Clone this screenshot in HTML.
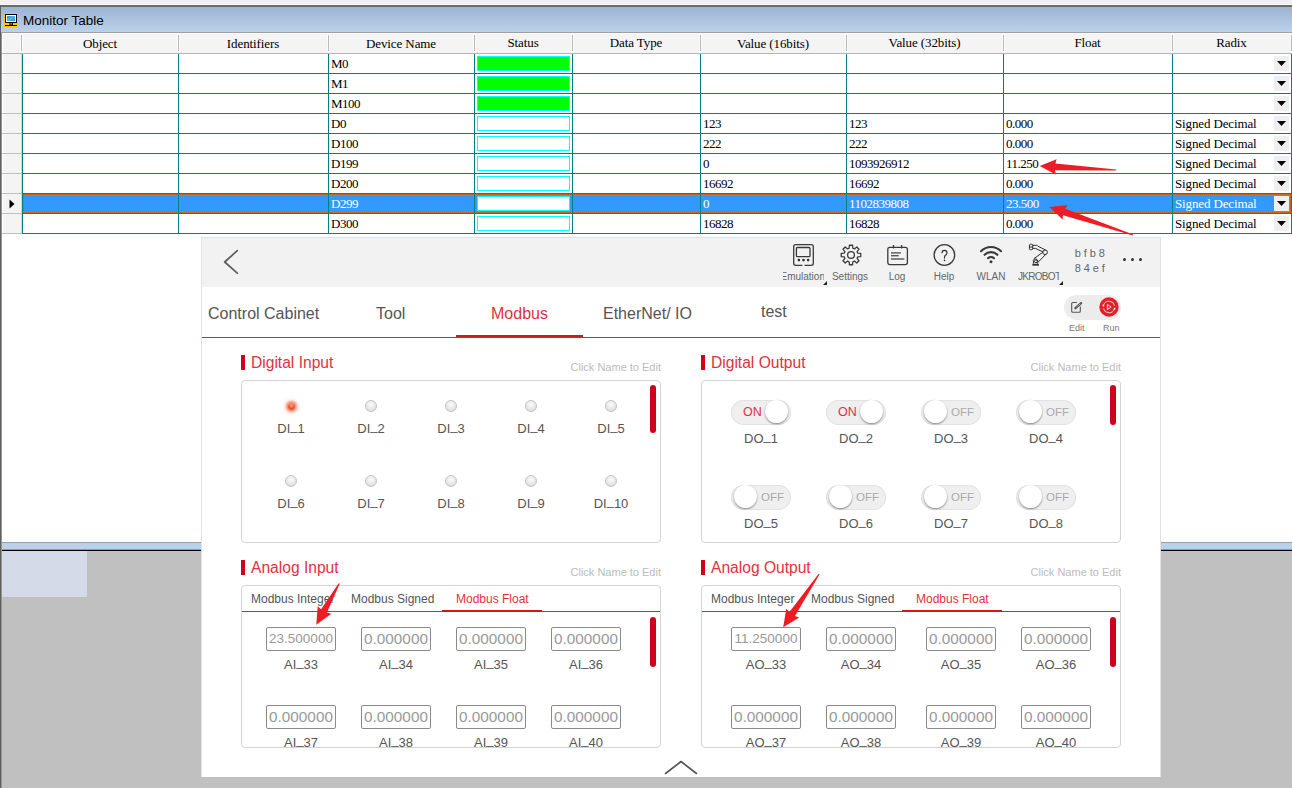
<!DOCTYPE html>
<html><head><meta charset="utf-8"><title>Monitor Table</title>
<style>
*{box-sizing:border-box;margin:0;padding:0}
html,body{width:1292px;height:788px;overflow:hidden}
body{position:relative;background:#f0f0f0;font-family:"Liberation Sans",sans-serif}
.ab{position:absolute}
.sf{font-family:"Liberation Serif",serif;font-size:13px;color:#000;white-space:pre;line-height:16px}
.hd{position:absolute;top:33.5px;height:20px;letter-spacing:-0.1px;font-family:"Liberation Serif",serif;font-size:13px;line-height:20px;text-align:center;color:#000;white-space:pre}
.ss{font-family:"Liberation Sans",sans-serif;white-space:pre}
</style></head><body>

<div class="ab" style="left:0;top:4px;width:1292px;height:1px;background:#f8f8f8"></div>
<div class="ab" style="left:0;top:5px;width:1292px;height:2px;background:#6b6b6b"></div>
<div class="ab" style="left:1px;top:7px;width:1291px;height:25px;background:linear-gradient(#9bb4d2,#bad2eb)"></div>
<div class="ab" style="left:1px;top:32px;width:1291px;height:1px;background:#a0a0a0"></div>
<svg class="ab" style="left:4px;top:13px" width="14" height="14" viewBox="0 0 14 14">
<defs><linearGradient id="scr" x1="0" y1="0" x2="1" y2="1"><stop offset="0" stop-color="#2b8ed0"/><stop offset="0.5" stop-color="#58b4e4"/><stop offset="1" stop-color="#2c8ccc"/></linearGradient></defs>
<rect x="0" y="0" width="14" height="14" fill="#ffc800"/>
<rect x="1" y="1" width="12" height="9" fill="#000"/>
<rect x="2" y="2" width="10" height="7" fill="#fff"/>
<rect x="3" y="3" width="8" height="5" fill="url(#scr)"/>
<rect x="5.5" y="10" width="3.5" height="2" fill="#000"/>
<rect x="6.3" y="10" width="1.9" height="1.6" fill="#808080"/>
<rect x="1" y="12" width="12" height="1" fill="#000"/>
</svg>
<div class="ab ss" style="left:23px;top:12px;font-size:13.5px;line-height:18px;color:#000">Monitor Table</div>
<div class="ab" style="left:1px;top:33px;width:1291px;height:509px;background:#fff"></div>
<div class="ab" style="left:1px;top:33px;width:1291px;height:20px;background:#f4f4f4"></div>
<div class="ab" style="left:2px;top:33px;width:1px;height:20px;background:#fff"></div>
<div class="ab" style="left:1px;top:33px;width:1291px;height:1px;background:#fafafa"></div>
<div class="ab" style="left:1px;top:53px;width:1291px;height:1px;background:#b4b4b4"></div>
<div class="ab" style="left:20px;top:33px;width:3px;height:20px;background:#fbfbfb"></div>
<div class="ab" style="left:21px;top:35px;width:1px;height:16px;background:#b9b9b9"></div>
<div class="ab" style="left:177px;top:33px;width:3px;height:20px;background:#fbfbfb"></div>
<div class="ab" style="left:178px;top:35px;width:1px;height:16px;background:#b9b9b9"></div>
<div class="ab" style="left:327px;top:33px;width:3px;height:20px;background:#fbfbfb"></div>
<div class="ab" style="left:328px;top:35px;width:1px;height:16px;background:#b9b9b9"></div>
<div class="ab" style="left:473px;top:33px;width:3px;height:20px;background:#fbfbfb"></div>
<div class="ab" style="left:474px;top:35px;width:1px;height:16px;background:#b9b9b9"></div>
<div class="ab" style="left:571px;top:33px;width:3px;height:20px;background:#fbfbfb"></div>
<div class="ab" style="left:572px;top:35px;width:1px;height:16px;background:#b9b9b9"></div>
<div class="ab" style="left:699px;top:33px;width:3px;height:20px;background:#fbfbfb"></div>
<div class="ab" style="left:700px;top:35px;width:1px;height:16px;background:#b9b9b9"></div>
<div class="ab" style="left:845px;top:33px;width:3px;height:20px;background:#fbfbfb"></div>
<div class="ab" style="left:846px;top:35px;width:1px;height:16px;background:#b9b9b9"></div>
<div class="ab" style="left:1002px;top:33px;width:3px;height:20px;background:#fbfbfb"></div>
<div class="ab" style="left:1003px;top:35px;width:1px;height:16px;background:#b9b9b9"></div>
<div class="ab" style="left:1171px;top:33px;width:3px;height:20px;background:#fbfbfb"></div>
<div class="ab" style="left:1172px;top:35px;width:1px;height:16px;background:#b9b9b9"></div>
<div class="ab" style="left:1290px;top:33px;width:3px;height:20px;background:#fbfbfb"></div>
<div class="ab" style="left:1291px;top:35px;width:1px;height:16px;background:#b9b9b9"></div>
<div class="hd" style="left:22px;width:156px;margin-top:0px">Object</div>
<div class="hd" style="left:178px;width:150px;margin-top:0px">Identifiers</div>
<div class="hd" style="left:328px;width:146px;margin-top:0px">Device Name</div>
<div class="hd" style="left:474px;width:98px;margin-top:-1px">Status</div>
<div class="hd" style="left:572px;width:128px;margin-top:-1px">Data Type</div>
<div class="hd" style="left:700px;width:146px;margin-top:0px">Value (16bits)</div>
<div class="hd" style="left:846px;width:157px;margin-top:-1px">Value (32bits)</div>
<div class="hd" style="left:1003px;width:169px;margin-top:-1px">Float</div>
<div class="hd" style="left:1172px;width:119px;margin-top:-1px">Radix</div>
<div class="ab" style="left:1px;top:54px;width:21px;height:19px;background:#f4f4f4"></div>
<div class="ab" style="left:2px;top:54px;width:1px;height:19px;background:#fff"></div>
<div class="ab" style="left:1px;top:73px;width:21px;height:1px;background:#c0c0c0"></div>
<div class="ab" style="left:21px;top:54px;width:1px;height:19px;background:#d6d6d6"></div>
<div class="ab sf" style="left:331px;top:55.6px;color:#000;letter-spacing:-0.5px">M0</div>
<div class="ab" style="left:477px;top:56px;width:93px;height:15px;border:1px solid #00ffff;background:#00ff00"></div>
<div class="ab" style="left:1274px;top:56px;width:15px;height:15px;background:#efefef"></div>
<svg class="ab" style="left:1277px;top:61px" width="9" height="5" viewBox="0 0 9 5"><path d="M0 0H9L4.5 5Z" fill="#000"/></svg>
<div class="ab" style="left:1px;top:74px;width:21px;height:19px;background:#f4f4f4"></div>
<div class="ab" style="left:2px;top:74px;width:1px;height:19px;background:#fff"></div>
<div class="ab" style="left:1px;top:93px;width:21px;height:1px;background:#c0c0c0"></div>
<div class="ab" style="left:21px;top:74px;width:1px;height:19px;background:#d6d6d6"></div>
<div class="ab sf" style="left:331px;top:75.6px;color:#000;letter-spacing:-0.5px">M1</div>
<div class="ab" style="left:477px;top:76px;width:93px;height:15px;border:1px solid #00ffff;background:#00ff00"></div>
<div class="ab" style="left:1274px;top:76px;width:15px;height:15px;background:#efefef"></div>
<svg class="ab" style="left:1277px;top:81px" width="9" height="5" viewBox="0 0 9 5"><path d="M0 0H9L4.5 5Z" fill="#000"/></svg>
<div class="ab" style="left:1px;top:94px;width:21px;height:19px;background:#f4f4f4"></div>
<div class="ab" style="left:2px;top:94px;width:1px;height:19px;background:#fff"></div>
<div class="ab" style="left:1px;top:113px;width:21px;height:1px;background:#c0c0c0"></div>
<div class="ab" style="left:21px;top:94px;width:1px;height:19px;background:#d6d6d6"></div>
<div class="ab sf" style="left:331px;top:95.6px;color:#000;letter-spacing:-0.5px">M100</div>
<div class="ab" style="left:477px;top:96px;width:93px;height:15px;border:1px solid #00ffff;background:#00ff00"></div>
<div class="ab" style="left:1274px;top:96px;width:15px;height:15px;background:#efefef"></div>
<svg class="ab" style="left:1277px;top:101px" width="9" height="5" viewBox="0 0 9 5"><path d="M0 0H9L4.5 5Z" fill="#000"/></svg>
<div class="ab" style="left:1px;top:114px;width:21px;height:19px;background:#f4f4f4"></div>
<div class="ab" style="left:2px;top:114px;width:1px;height:19px;background:#fff"></div>
<div class="ab" style="left:1px;top:133px;width:21px;height:1px;background:#c0c0c0"></div>
<div class="ab" style="left:21px;top:114px;width:1px;height:19px;background:#d6d6d6"></div>
<div class="ab sf" style="left:331px;top:115.6px;color:#000;letter-spacing:-0.5px">D0</div>
<div class="ab" style="left:477px;top:116px;width:93px;height:15px;border:1px solid #00ffff;background:#fff"></div>
<div class="ab sf" style="left:703px;top:115.6px;color:#000;letter-spacing:-0.5px">123</div>
<div class="ab sf" style="left:849px;top:115.6px;color:#000;letter-spacing:-0.5px">123</div>
<div class="ab sf" style="left:1006px;top:115.6px;color:#000;letter-spacing:-0.5px">0.000</div>
<div class="ab sf" style="left:1175px;top:115.6px;color:#000;letter-spacing:-0.13px">Signed Decimal</div>
<div class="ab" style="left:1274px;top:116px;width:15px;height:15px;background:#efefef"></div>
<svg class="ab" style="left:1277px;top:121px" width="9" height="5" viewBox="0 0 9 5"><path d="M0 0H9L4.5 5Z" fill="#000"/></svg>
<div class="ab" style="left:1px;top:134px;width:21px;height:19px;background:#f4f4f4"></div>
<div class="ab" style="left:2px;top:134px;width:1px;height:19px;background:#fff"></div>
<div class="ab" style="left:1px;top:153px;width:21px;height:1px;background:#c0c0c0"></div>
<div class="ab" style="left:21px;top:134px;width:1px;height:19px;background:#d6d6d6"></div>
<div class="ab sf" style="left:331px;top:135.6px;color:#000;letter-spacing:-0.5px">D100</div>
<div class="ab" style="left:477px;top:136px;width:93px;height:15px;border:1px solid #00ffff;background:#fff"></div>
<div class="ab sf" style="left:703px;top:135.6px;color:#000;letter-spacing:-0.5px">222</div>
<div class="ab sf" style="left:849px;top:135.6px;color:#000;letter-spacing:-0.5px">222</div>
<div class="ab sf" style="left:1006px;top:135.6px;color:#000;letter-spacing:-0.5px">0.000</div>
<div class="ab sf" style="left:1175px;top:135.6px;color:#000;letter-spacing:-0.13px">Signed Decimal</div>
<div class="ab" style="left:1274px;top:136px;width:15px;height:15px;background:#efefef"></div>
<svg class="ab" style="left:1277px;top:141px" width="9" height="5" viewBox="0 0 9 5"><path d="M0 0H9L4.5 5Z" fill="#000"/></svg>
<div class="ab" style="left:1px;top:154px;width:21px;height:19px;background:#f4f4f4"></div>
<div class="ab" style="left:2px;top:154px;width:1px;height:19px;background:#fff"></div>
<div class="ab" style="left:1px;top:173px;width:21px;height:1px;background:#c0c0c0"></div>
<div class="ab" style="left:21px;top:154px;width:1px;height:19px;background:#d6d6d6"></div>
<div class="ab sf" style="left:331px;top:155.6px;color:#000;letter-spacing:-0.5px">D199</div>
<div class="ab" style="left:477px;top:156px;width:93px;height:15px;border:1px solid #00ffff;background:#fff"></div>
<div class="ab sf" style="left:703px;top:155.6px;color:#000;letter-spacing:-0.5px">0</div>
<div class="ab sf" style="left:849px;top:155.6px;color:#000;letter-spacing:-0.5px">1093926912</div>
<div class="ab sf" style="left:1006px;top:155.6px;color:#000;letter-spacing:-0.5px">11.250</div>
<div class="ab sf" style="left:1175px;top:155.6px;color:#000;letter-spacing:-0.13px">Signed Decimal</div>
<div class="ab" style="left:1274px;top:156px;width:15px;height:15px;background:#efefef"></div>
<svg class="ab" style="left:1277px;top:161px" width="9" height="5" viewBox="0 0 9 5"><path d="M0 0H9L4.5 5Z" fill="#000"/></svg>
<div class="ab" style="left:1px;top:174px;width:21px;height:19px;background:#f4f4f4"></div>
<div class="ab" style="left:2px;top:174px;width:1px;height:19px;background:#fff"></div>
<div class="ab" style="left:1px;top:193px;width:21px;height:1px;background:#c0c0c0"></div>
<div class="ab" style="left:21px;top:174px;width:1px;height:19px;background:#d6d6d6"></div>
<div class="ab sf" style="left:331px;top:175.6px;color:#000;letter-spacing:-0.5px">D200</div>
<div class="ab" style="left:477px;top:176px;width:93px;height:15px;border:1px solid #00ffff;background:#fff"></div>
<div class="ab sf" style="left:703px;top:175.6px;color:#000;letter-spacing:-0.5px">16692</div>
<div class="ab sf" style="left:849px;top:175.6px;color:#000;letter-spacing:-0.5px">16692</div>
<div class="ab sf" style="left:1006px;top:175.6px;color:#000;letter-spacing:-0.5px">0.000</div>
<div class="ab sf" style="left:1175px;top:175.6px;color:#000;letter-spacing:-0.13px">Signed Decimal</div>
<div class="ab" style="left:1274px;top:176px;width:15px;height:15px;background:#efefef"></div>
<svg class="ab" style="left:1277px;top:181px" width="9" height="5" viewBox="0 0 9 5"><path d="M0 0H9L4.5 5Z" fill="#000"/></svg>
<div class="ab" style="left:1px;top:194px;width:21px;height:19px;background:#f4f4f4"></div>
<div class="ab" style="left:2px;top:194px;width:1px;height:19px;background:#fff"></div>
<div class="ab" style="left:1px;top:213px;width:21px;height:1px;background:#c0c0c0"></div>
<div class="ab" style="left:21px;top:194px;width:1px;height:19px;background:#d6d6d6"></div>
<div class="ab" style="left:23px;top:194px;width:1268px;height:19px;background:#3399ff"></div>
<div class="ab" style="left:23px;top:194px;width:1268px;height:19px;border:1px dotted #c06010"></div>
<svg class="ab" style="left:9px;top:199px" width="6" height="10" viewBox="0 0 6 10"><path d="M0.5 0.5 L5.5 5 L0.5 9.5Z" fill="#000"/></svg>
<div class="ab sf" style="left:331px;top:195.6px;color:#fff;letter-spacing:-0.5px">D299</div>
<div class="ab" style="left:477px;top:196px;width:93px;height:15px;border:1px solid #00ffff;background:#fff"></div>
<div class="ab sf" style="left:703px;top:195.6px;color:#fff;letter-spacing:-0.5px">0</div>
<div class="ab sf" style="left:849px;top:195.6px;color:#fff;letter-spacing:-0.5px">1102839808</div>
<div class="ab sf" style="left:1006px;top:195.6px;color:#fff;letter-spacing:-0.5px">23.500</div>
<div class="ab sf" style="left:1175px;top:195.6px;color:#fff;letter-spacing:-0.13px">Signed Decimal</div>
<div class="ab" style="left:1274px;top:196px;width:15px;height:15px;background:#efefef"></div>
<svg class="ab" style="left:1277px;top:201px" width="9" height="5" viewBox="0 0 9 5"><path d="M0 0H9L4.5 5Z" fill="#000"/></svg>
<div class="ab" style="left:1px;top:214px;width:21px;height:19px;background:#f4f4f4"></div>
<div class="ab" style="left:2px;top:214px;width:1px;height:19px;background:#fff"></div>
<div class="ab" style="left:1px;top:233px;width:21px;height:1px;background:#c0c0c0"></div>
<div class="ab" style="left:21px;top:214px;width:1px;height:19px;background:#d6d6d6"></div>
<div class="ab sf" style="left:331px;top:215.6px;color:#000;letter-spacing:-0.5px">D300</div>
<div class="ab" style="left:477px;top:216px;width:93px;height:15px;border:1px solid #00ffff;background:#fff"></div>
<div class="ab sf" style="left:703px;top:215.6px;color:#000;letter-spacing:-0.5px">16828</div>
<div class="ab sf" style="left:849px;top:215.6px;color:#000;letter-spacing:-0.5px">16828</div>
<div class="ab sf" style="left:1006px;top:215.6px;color:#000;letter-spacing:-0.5px">0.000</div>
<div class="ab sf" style="left:1175px;top:215.6px;color:#000;letter-spacing:-0.13px">Signed Decimal</div>
<div class="ab" style="left:1274px;top:216px;width:15px;height:15px;background:#efefef"></div>
<svg class="ab" style="left:1277px;top:221px" width="9" height="5" viewBox="0 0 9 5"><path d="M0 0H9L4.5 5Z" fill="#000"/></svg>
<div class="ab" style="left:22px;top:54px;width:1px;height:180px;background:#008080"></div>
<div class="ab" style="left:178px;top:54px;width:1px;height:180px;background:#008080"></div>
<div class="ab" style="left:328px;top:54px;width:1px;height:180px;background:#008080"></div>
<div class="ab" style="left:474px;top:54px;width:1px;height:180px;background:#008080"></div>
<div class="ab" style="left:572px;top:54px;width:1px;height:180px;background:#008080"></div>
<div class="ab" style="left:700px;top:54px;width:1px;height:180px;background:#008080"></div>
<div class="ab" style="left:846px;top:54px;width:1px;height:180px;background:#008080"></div>
<div class="ab" style="left:1003px;top:54px;width:1px;height:180px;background:#008080"></div>
<div class="ab" style="left:1172px;top:54px;width:1px;height:180px;background:#008080"></div>
<div class="ab" style="left:1291px;top:54px;width:1px;height:180px;background:#008080"></div>
<div class="ab" style="left:22px;top:73px;width:1270px;height:1px;background:#008080"></div>
<div class="ab" style="left:22px;top:93px;width:1270px;height:1px;background:#008080"></div>
<div class="ab" style="left:22px;top:113px;width:1270px;height:1px;background:#008080"></div>
<div class="ab" style="left:22px;top:133px;width:1270px;height:1px;background:#008080"></div>
<div class="ab" style="left:22px;top:153px;width:1270px;height:1px;background:#008080"></div>
<div class="ab" style="left:22px;top:173px;width:1270px;height:1px;background:#008080"></div>
<div class="ab" style="left:22px;top:193px;width:1270px;height:1px;background:#008080"></div>
<div class="ab" style="left:22px;top:213px;width:1270px;height:1px;background:#008080"></div>
<div class="ab" style="left:22px;top:233px;width:1270px;height:1px;background:#008080"></div>
<div class="ab" style="left:1px;top:542px;width:1291px;height:1px;background:#a0a0a0"></div>
<div class="ab" style="left:1px;top:543px;width:1291px;height:6px;background:#b9d1ea"></div>
<div class="ab" style="left:1px;top:549px;width:1291px;height:1px;background:#1ec8e8"></div>
<div class="ab" style="left:1px;top:550px;width:1291px;height:1px;background:#000"></div>
<div class="ab" style="left:1px;top:551px;width:1291px;height:237px;background:#c0c0c0"></div>
<div class="ab" style="left:1px;top:551px;width:86px;height:46px;background:#d4dae8"></div>
<div class="ab" style="left:0;top:5px;width:1px;height:783px;background:#606060"></div>
<div class="ab" style="left:1px;top:33px;width:1px;height:755px;background:#959595"></div><div class="ab" style="left:201px;top:237px;width:960px;height:540px;background:#fff;border:1px solid #e2e2e2;border-bottom:none"></div>
<div class="ab" style="left:202px;top:238px;width:958px;height:49px;background:#f2f2f2"></div>
<svg class="ab" style="left:220px;top:246px" width="24" height="32" viewBox="0 0 24 32"><path d="M17.3 4.6 L4.7 16 L17.3 27.2" fill="none" stroke="#5e5e5e" stroke-width="1.7" stroke-linecap="round" stroke-linejoin="round"/></svg>
<svg class="ab" style="left:790px;top:242px" width="26" height="26" viewBox="0 0 26 26">
<path d="M14.6 23.3 H21.3 Q23.3 23.3 23.3 21.3 V4.7 Q23.3 2.7 21.3 2.7 H5.7 Q3.7 2.7 3.7 4.7 V21.3 Q3.7 23.3 5.7 23.3 H12.4" fill="none" stroke="#3a3a3a" stroke-width="1.3"/>
<rect x="6.4" y="5.5" width="13.6" height="9.2" rx="1" fill="none" stroke="#3a3a3a" stroke-width="1.3"/>
<circle cx="8.9" cy="18.1" r="1.3" fill="#2a2a2a"/><circle cx="13.5" cy="18.1" r="1.3" fill="#2a2a2a"/><circle cx="18.1" cy="18.1" r="1.3" fill="#2a2a2a"/>
</svg>
<svg class="ab" style="left:837.5px;top:242px" width="26" height="26" viewBox="0 0 26 26">
<path d="M19.75 11.13 L22.77 11.42 L22.77 14.58 L19.75 14.87 L19.09 16.45 L21.03 18.80 L18.80 21.03 L16.45 19.09 L14.87 19.75 L14.58 22.77 L11.42 22.77 L11.13 19.75 L9.55 19.09 L7.20 21.03 L4.97 18.80 L6.91 16.45 L6.25 14.87 L3.23 14.58 L3.23 11.42 L6.25 11.13 L6.91 9.55 L4.97 7.20 L7.20 4.97 L9.55 6.91 L11.13 6.25 L11.42 3.23 L14.58 3.23 L14.87 6.25 L16.45 6.91 L18.80 4.97 L21.03 7.20 L19.09 9.55Z" fill="none" stroke="#3a3a3a" stroke-width="1.3" stroke-linejoin="round"/>
<circle cx="13" cy="13" r="3.4" fill="none" stroke="#3a3a3a" stroke-width="1.3"/>
</svg>
<svg class="ab" style="left:884px;top:242px" width="26" height="26" viewBox="0 0 26 26">
<rect x="3.8" y="5.4" width="19.6" height="17.2" rx="2" fill="none" stroke="#3a3a3a" stroke-width="1.3"/>
<line x1="9.5" y1="3" x2="9.5" y2="6.5" fill="none" stroke="#3a3a3a" stroke-width="1.3"/><line x1="17.6" y1="3" x2="17.6" y2="6.5" fill="none" stroke="#3a3a3a" stroke-width="1.3"/>
<line x1="7" y1="10.9" x2="16.9" y2="10.9" stroke="#555" stroke-width="1.4"/><line x1="7" y1="13.7" x2="14.7" y2="13.7" stroke="#555" stroke-width="1.4"/><line x1="7" y1="17" x2="20.4" y2="17" stroke="#555" stroke-width="1.4"/>
</svg>
<svg class="ab" style="left:931px;top:242px" width="26" height="26" viewBox="0 0 26 26">
<circle cx="13.4" cy="13" r="10.3" fill="none" stroke="#3a3a3a" stroke-width="1.3"/>
<path d="M11 11.2 Q11 8.4 13.5 8.4 Q16 8.4 16 10.8 Q16 12.4 14.4 13.3 Q13.5 13.9 13.5 15.5 V16.5" fill="none" stroke="#2a2a2a" stroke-width="1.1"/>
<circle cx="13.5" cy="18.4" r="0.8" fill="#2a2a2a"/>
</svg>
<svg class="ab" style="left:978px;top:243px" width="26" height="22" viewBox="0 0 26 22">
<path d="M3 8.2 A14 14 0 0 1 23 8.2" fill="none" stroke="#3a3a3a" stroke-width="2.1" stroke-linecap="round"/>
<path d="M6.6 11.8 A9 9 0 0 1 19.4 11.8" fill="none" stroke="#3a3a3a" stroke-width="2.1" stroke-linecap="round"/>
<path d="M10 15.2 A4.4 4.4 0 0 1 16 15.2" fill="none" stroke="#3a3a3a" stroke-width="2.1" stroke-linecap="round"/>
<circle cx="13" cy="18.8" r="1.5" fill="#3a3a3a"/>
</svg>
<svg class="ab" style="left:1025px;top:241px" width="26" height="27" viewBox="0 0 26 27">
<g fill="none" stroke="#2e2e2e" stroke-width="1">
<rect x="4.4" y="3.3" width="3.3" height="5.4" rx="0.9"/>
<line x1="4.4" y1="6" x2="7.7" y2="6"/>
<path d="M7.7 4.3 H11.6 Q12.4 4.3 12.9 5.2 L20.6 9.0"/>
<path d="M7.7 7.4 H10.4 L18.2 11.0"/>
<circle cx="20.1" cy="11.3" r="2.3"/>
<line x1="17.6" y1="11.4" x2="9.0" y2="17.6"/>
<line x1="20.6" y1="13.5" x2="12.9" y2="21.4"/>
<path d="M8.4 22.6 V19.4 Q8.6 17.6 10.8 17.9 Q13.1 18.5 12.9 20.8 L12.5 22.6"/>
<circle cx="10.9" cy="20.3" r="1.4"/>
</g>
<rect x="7.4" y="22.8" width="6.5" height="1.9" fill="#333"/>
</svg>
<div class="ab" style="left:783px;top:270px;width:41px;height:14px;overflow:hidden"><div class="ab ss" style="left:-2.5px;top:1px;font-size:10px;line-height:12px;color:#666">Emulation</div></div>
<div class="ab ss" style="left:820px;top:271px;width:60px;text-align:center;font-size:10px;line-height:12px;color:#666">Settings</div>
<div class="ab ss" style="left:867px;top:271px;width:60px;text-align:center;font-size:10px;line-height:12px;color:#666">Log</div>
<div class="ab ss" style="left:914px;top:271px;width:60px;text-align:center;font-size:10px;line-height:12px;color:#666">Help</div>
<div class="ab ss" style="left:961px;top:271px;width:60px;text-align:center;font-size:10px;line-height:12px;color:#666">WLAN</div>
<div class="ab" style="left:1018px;top:270px;width:41px;height:14px;overflow:hidden"><div class="ab ss" style="left:0px;top:1px;font-size:10px;line-height:12px;color:#666;letter-spacing:-0.7px">JKROBOT</div></div>
<svg class="ab" style="left:823px;top:281px" width="4" height="4"><path d="M4 0V4H0Z" fill="#222"/></svg>
<svg class="ab" style="left:1059px;top:281px" width="4" height="4"><path d="M4 0V4H0Z" fill="#222"/></svg>
<div class="ab ss" style="left:1074.8px;top:246px;font-size:11px;line-height:14px;letter-spacing:2.9px;color:#666">bfb8</div>
<div class="ab ss" style="left:1074.8px;top:261px;font-size:11px;line-height:14px;letter-spacing:2.9px;color:#666">84ef</div>
<div class="ab" style="left:1122.9px;top:258px;width:3.2px;height:3.2px;border-radius:50%;background:#333"></div>
<div class="ab" style="left:1130.9px;top:258px;width:3.2px;height:3.2px;border-radius:50%;background:#333"></div>
<div class="ab" style="left:1138.9px;top:258px;width:3.2px;height:3.2px;border-radius:50%;background:#333"></div>
<div class="ab ss" style="left:208px;top:303.5px;font-size:16px;line-height:20px;color:#555">Control Cabinet</div>
<div class="ab ss" style="left:376px;top:303.5px;font-size:16px;line-height:20px;color:#555">Tool</div>
<div class="ab ss" style="left:491px;top:303.5px;font-size:16px;line-height:20px;color:#555;color:#e0323c">Modbus</div>
<div class="ab ss" style="left:603px;top:303.5px;font-size:16px;line-height:20px;color:#555">EtherNet/ IO</div>
<div class="ab ss" style="left:761px;top:301.5px;font-size:16px;line-height:20px;color:#555">test</div>
<div class="ab" style="left:202px;top:337px;width:958px;height:1px;background:#d9232e"></div>
<div class="ab" style="left:456px;top:335px;width:127px;height:2px;background:#cc1a1a"></div>
<div class="ab" style="left:1064px;top:295px;width:57px;height:25px;border-radius:12.5px;background:#ececec"></div>
<svg class="ab" style="left:1069px;top:300px" width="16" height="15" viewBox="0 0 16 15">
<path d="M7.9 2.5 H3.7 Q2.7 2.5 2.7 3.5 V11.3 Q2.7 12.3 3.7 12.3 H10.3 Q11.3 12.3 11.3 11.3 V6.6" stroke="#555" stroke-width="1.1" fill="none"/>
<line x1="6.4" y1="8.2" x2="12.1" y2="3.1" stroke="#555" stroke-width="2.3" stroke-linecap="round"/>
<line x1="7.6" y1="7.1" x2="11.5" y2="3.6" stroke="#eee" stroke-width="0.7" stroke-dasharray="1 0.7"/>
</svg>
<svg class="ab" style="left:1098px;top:296px" width="22" height="22" viewBox="0 0 22 22">
<circle cx="11" cy="11" r="9.7" fill="#e2202a"/>
<path d="M5.55 9.02 A5.8 5.8 0 0 1 16.6 9.5" fill="none" stroke="#fff" stroke-width="0.8"/>
<path d="M16.45 12.98 A5.8 5.8 0 0 1 5.4 12.5" fill="none" stroke="#fff" stroke-width="0.8"/>
<circle cx="5.4" cy="9.5" r="0.9" fill="#fff"/><circle cx="16.6" cy="12.6" r="0.9" fill="#fff"/>
<path d="M9.4 8.5 L13.1 11.05 L9.4 13.6 Z" fill="none" stroke="#fff" stroke-width="0.8" stroke-linejoin="round"/>
</svg>
<div class="ab ss" style="left:1069px;top:323px;font-size:9px;line-height:11px;color:#777">Edit</div>
<div class="ab ss" style="left:1103px;top:323px;font-size:9px;line-height:11px;color:#777">Run</div>
<div class="ab" style="left:241px;top:355px;width:4px;height:15px;background:#d0021b"></div>
<div class="ab ss" style="left:251px;top:353px;font-size:15.6px;line-height:20px;color:#e0323c">Digital Input</div>
<div class="ab ss" style="left:561px;top:361px;width:100px;text-align:right;font-size:11px;line-height:13px;color:#bbb">Click Name to Edit</div>
<div class="ab" style="left:241px;top:380px;width:420px;height:163px;border:1px solid #d4d4d4;border-radius:4px;background:#fff;overflow:hidden"></div>
<div class="ab" style="left:650px;top:385px;width:6px;height:48px;border-radius:3px;background:#d0021b"></div>
<div class="ab" style="left:287.5px;top:403px;width:7px;height:7px;border-radius:50%;background:radial-gradient(circle at 50% 30%,#f7a088,#e85a35 55%,#e03c10);box-shadow:0 0 2px 2px rgba(240,80,40,.55),0 0 4px 3px rgba(250,120,90,.3)"></div>
<div class="ab ss" style="left:261px;top:421px;width:60px;text-align:center;font-size:13px;line-height:16px;color:#555">DI<span style="position:relative;top:-3px">_</span>1</div>
<div class="ab" style="left:365px;top:400px;width:12px;height:12px;border-radius:50%;background:radial-gradient(circle at 50% 35%,#fcfcfc,#e6e6e6 60%,#d2d2d2);border:0.8px solid #c4c4c4"></div>
<div class="ab ss" style="left:341px;top:421px;width:60px;text-align:center;font-size:13px;line-height:16px;color:#555">DI<span style="position:relative;top:-3px">_</span>2</div>
<div class="ab" style="left:445px;top:400px;width:12px;height:12px;border-radius:50%;background:radial-gradient(circle at 50% 35%,#fcfcfc,#e6e6e6 60%,#d2d2d2);border:0.8px solid #c4c4c4"></div>
<div class="ab ss" style="left:421px;top:421px;width:60px;text-align:center;font-size:13px;line-height:16px;color:#555">DI<span style="position:relative;top:-3px">_</span>3</div>
<div class="ab" style="left:525px;top:400px;width:12px;height:12px;border-radius:50%;background:radial-gradient(circle at 50% 35%,#fcfcfc,#e6e6e6 60%,#d2d2d2);border:0.8px solid #c4c4c4"></div>
<div class="ab ss" style="left:501px;top:421px;width:60px;text-align:center;font-size:13px;line-height:16px;color:#555">DI<span style="position:relative;top:-3px">_</span>4</div>
<div class="ab" style="left:605px;top:400px;width:12px;height:12px;border-radius:50%;background:radial-gradient(circle at 50% 35%,#fcfcfc,#e6e6e6 60%,#d2d2d2);border:0.8px solid #c4c4c4"></div>
<div class="ab ss" style="left:581px;top:421px;width:60px;text-align:center;font-size:13px;line-height:16px;color:#555">DI<span style="position:relative;top:-3px">_</span>5</div>
<div class="ab" style="left:285px;top:475px;width:12px;height:12px;border-radius:50%;background:radial-gradient(circle at 50% 35%,#fcfcfc,#e6e6e6 60%,#d2d2d2);border:0.8px solid #c4c4c4"></div>
<div class="ab ss" style="left:261px;top:496px;width:60px;text-align:center;font-size:13px;line-height:16px;color:#555">DI<span style="position:relative;top:-3px">_</span>6</div>
<div class="ab" style="left:365px;top:475px;width:12px;height:12px;border-radius:50%;background:radial-gradient(circle at 50% 35%,#fcfcfc,#e6e6e6 60%,#d2d2d2);border:0.8px solid #c4c4c4"></div>
<div class="ab ss" style="left:341px;top:496px;width:60px;text-align:center;font-size:13px;line-height:16px;color:#555">DI<span style="position:relative;top:-3px">_</span>7</div>
<div class="ab" style="left:445px;top:475px;width:12px;height:12px;border-radius:50%;background:radial-gradient(circle at 50% 35%,#fcfcfc,#e6e6e6 60%,#d2d2d2);border:0.8px solid #c4c4c4"></div>
<div class="ab ss" style="left:421px;top:496px;width:60px;text-align:center;font-size:13px;line-height:16px;color:#555">DI<span style="position:relative;top:-3px">_</span>8</div>
<div class="ab" style="left:525px;top:475px;width:12px;height:12px;border-radius:50%;background:radial-gradient(circle at 50% 35%,#fcfcfc,#e6e6e6 60%,#d2d2d2);border:0.8px solid #c4c4c4"></div>
<div class="ab ss" style="left:501px;top:496px;width:60px;text-align:center;font-size:13px;line-height:16px;color:#555">DI<span style="position:relative;top:-3px">_</span>9</div>
<div class="ab" style="left:605px;top:475px;width:12px;height:12px;border-radius:50%;background:radial-gradient(circle at 50% 35%,#fcfcfc,#e6e6e6 60%,#d2d2d2);border:0.8px solid #c4c4c4"></div>
<div class="ab ss" style="left:581px;top:496px;width:60px;text-align:center;font-size:13px;line-height:16px;color:#555">DI<span style="position:relative;top:-3px">_</span>10</div>
<div class="ab" style="left:701px;top:355px;width:4px;height:15px;background:#d0021b"></div>
<div class="ab ss" style="left:711px;top:353px;font-size:15.6px;line-height:20px;color:#e0323c">Digital Output</div>
<div class="ab ss" style="left:1021px;top:361px;width:100px;text-align:right;font-size:11px;line-height:13px;color:#bbb">Click Name to Edit</div>
<div class="ab" style="left:701px;top:380px;width:420px;height:163px;border:1px solid #d4d4d4;border-radius:4px;background:#fff;overflow:hidden"></div>
<div class="ab" style="left:1110px;top:385px;width:6px;height:40px;border-radius:3px;background:#d0021b"></div>
<div class="ab" style="left:731px;top:400px;width:60px;height:25px;border-radius:12.5px;background:#efefef;box-shadow:inset 0 0 0 1px #e2e2e2"></div>
<div class="ab ss" style="left:743px;top:405px;font-size:12.5px;line-height:15px;color:#e0323c">ON</div>
<div class="ab" style="left:764.5px;top:400px;width:23px;height:23px;border-radius:50%;background:#fff;box-shadow:0 1px 2px 0 rgba(0,0,0,.45)"></div>
<div class="ab ss" style="left:731px;top:430.7px;width:60px;text-align:center;font-size:13px;line-height:16px;color:#555">DO<span style="position:relative;top:-3px">_</span>1</div>
<div class="ab" style="left:826px;top:400px;width:60px;height:25px;border-radius:12.5px;background:#efefef;box-shadow:inset 0 0 0 1px #e2e2e2"></div>
<div class="ab ss" style="left:838px;top:405px;font-size:12.5px;line-height:15px;color:#e0323c">ON</div>
<div class="ab" style="left:859.5px;top:400px;width:23px;height:23px;border-radius:50%;background:#fff;box-shadow:0 1px 2px 0 rgba(0,0,0,.45)"></div>
<div class="ab ss" style="left:826px;top:430.7px;width:60px;text-align:center;font-size:13px;line-height:16px;color:#555">DO<span style="position:relative;top:-3px">_</span>2</div>
<div class="ab" style="left:921px;top:400px;width:60px;height:25px;border-radius:12.5px;background:#efefef;box-shadow:inset 0 0 0 1px #e2e2e2"></div>
<div class="ab ss" style="left:951px;top:405px;font-size:11.5px;line-height:15px;color:#aaa">OFF</div>
<div class="ab" style="left:923.5px;top:400px;width:23px;height:23px;border-radius:50%;background:#fff;box-shadow:0 1px 2px 0 rgba(0,0,0,.45)"></div>
<div class="ab ss" style="left:921px;top:430.7px;width:60px;text-align:center;font-size:13px;line-height:16px;color:#555">DO<span style="position:relative;top:-3px">_</span>3</div>
<div class="ab" style="left:1016px;top:400px;width:60px;height:25px;border-radius:12.5px;background:#efefef;box-shadow:inset 0 0 0 1px #e2e2e2"></div>
<div class="ab ss" style="left:1046px;top:405px;font-size:11.5px;line-height:15px;color:#aaa">OFF</div>
<div class="ab" style="left:1018.5px;top:400px;width:23px;height:23px;border-radius:50%;background:#fff;box-shadow:0 1px 2px 0 rgba(0,0,0,.45)"></div>
<div class="ab ss" style="left:1016px;top:430.7px;width:60px;text-align:center;font-size:13px;line-height:16px;color:#555">DO<span style="position:relative;top:-3px">_</span>4</div>
<div class="ab" style="left:731px;top:485px;width:60px;height:25px;border-radius:12.5px;background:#efefef;box-shadow:inset 0 0 0 1px #e2e2e2"></div>
<div class="ab ss" style="left:761px;top:490px;font-size:11.5px;line-height:15px;color:#aaa">OFF</div>
<div class="ab" style="left:733.5px;top:485px;width:23px;height:23px;border-radius:50%;background:#fff;box-shadow:0 1px 2px 0 rgba(0,0,0,.45)"></div>
<div class="ab ss" style="left:731px;top:515.7px;width:60px;text-align:center;font-size:13px;line-height:16px;color:#555">DO<span style="position:relative;top:-3px">_</span>5</div>
<div class="ab" style="left:826px;top:485px;width:60px;height:25px;border-radius:12.5px;background:#efefef;box-shadow:inset 0 0 0 1px #e2e2e2"></div>
<div class="ab ss" style="left:856px;top:490px;font-size:11.5px;line-height:15px;color:#aaa">OFF</div>
<div class="ab" style="left:828.5px;top:485px;width:23px;height:23px;border-radius:50%;background:#fff;box-shadow:0 1px 2px 0 rgba(0,0,0,.45)"></div>
<div class="ab ss" style="left:826px;top:515.7px;width:60px;text-align:center;font-size:13px;line-height:16px;color:#555">DO<span style="position:relative;top:-3px">_</span>6</div>
<div class="ab" style="left:921px;top:485px;width:60px;height:25px;border-radius:12.5px;background:#efefef;box-shadow:inset 0 0 0 1px #e2e2e2"></div>
<div class="ab ss" style="left:951px;top:490px;font-size:11.5px;line-height:15px;color:#aaa">OFF</div>
<div class="ab" style="left:923.5px;top:485px;width:23px;height:23px;border-radius:50%;background:#fff;box-shadow:0 1px 2px 0 rgba(0,0,0,.45)"></div>
<div class="ab ss" style="left:921px;top:515.7px;width:60px;text-align:center;font-size:13px;line-height:16px;color:#555">DO<span style="position:relative;top:-3px">_</span>7</div>
<div class="ab" style="left:1016px;top:485px;width:60px;height:25px;border-radius:12.5px;background:#efefef;box-shadow:inset 0 0 0 1px #e2e2e2"></div>
<div class="ab ss" style="left:1046px;top:490px;font-size:11.5px;line-height:15px;color:#aaa">OFF</div>
<div class="ab" style="left:1018.5px;top:485px;width:23px;height:23px;border-radius:50%;background:#fff;box-shadow:0 1px 2px 0 rgba(0,0,0,.45)"></div>
<div class="ab ss" style="left:1016px;top:515.7px;width:60px;text-align:center;font-size:13px;line-height:16px;color:#555">DO<span style="position:relative;top:-3px">_</span>8</div>
<div class="ab" style="left:241px;top:560px;width:4px;height:15px;background:#d0021b"></div>
<div class="ab ss" style="left:251px;top:558px;font-size:15.6px;line-height:20px;color:#e0323c">Analog Input</div>
<div class="ab ss" style="left:561px;top:566px;width:100px;text-align:right;font-size:11px;line-height:13px;color:#bbb">Click Name to Edit</div>
<div class="ab" style="left:241px;top:585px;width:420px;height:163px;border:1px solid #d4d4d4;border-radius:4px;background:#fff;overflow:hidden">
<div class="ab ss" style="left:9px;top:6px;font-size:12px;line-height:14px;color:#555">Modbus Integer</div>
<div class="ab ss" style="left:109px;top:6px;font-size:12px;line-height:14px;color:#555">Modbus Signed</div>
<div class="ab ss" style="left:214px;top:6px;font-size:12px;line-height:14px;color:#555;color:#e0323c">Modbus Float</div>
<div class="ab" style="left:0;top:25px;width:420px;height:1px;background:#d9232e"></div>
<div class="ab" style="left:200px;top:24px;width:100px;height:2px;background:#cc1a1a"></div>
<div class="ab" style="left:408px;top:31px;width:6px;height:50px;border-radius:3px;background:#d0021b"></div>
<div class="ab" style="left:24px;top:41px;width:70px;height:24px;border:1px solid #8a8a8a;border-radius:2px"></div>
<div class="ab ss" style="left:24px;top:41px;width:70px;height:24px;text-align:center;font-size:13.5px;line-height:24px;color:#999">23.500000</div>
<div class="ab ss" style="left:24px;top:71px;width:70px;text-align:center;font-size:13px;line-height:16px;color:#555">AI<span style="position:relative;top:-3px">_</span>33</div>
<div class="ab" style="left:119px;top:41px;width:70px;height:24px;border:1px solid #8a8a8a;border-radius:2px"></div>
<div class="ab ss" style="left:119px;top:41px;width:70px;height:24px;text-align:center;font-size:15.3px;line-height:24px;color:#999">0.000000</div>
<div class="ab ss" style="left:119px;top:71px;width:70px;text-align:center;font-size:13px;line-height:16px;color:#555">AI<span style="position:relative;top:-3px">_</span>34</div>
<div class="ab" style="left:214px;top:41px;width:70px;height:24px;border:1px solid #8a8a8a;border-radius:2px"></div>
<div class="ab ss" style="left:214px;top:41px;width:70px;height:24px;text-align:center;font-size:15.3px;line-height:24px;color:#999">0.000000</div>
<div class="ab ss" style="left:214px;top:71px;width:70px;text-align:center;font-size:13px;line-height:16px;color:#555">AI<span style="position:relative;top:-3px">_</span>35</div>
<div class="ab" style="left:309px;top:41px;width:70px;height:24px;border:1px solid #8a8a8a;border-radius:2px"></div>
<div class="ab ss" style="left:309px;top:41px;width:70px;height:24px;text-align:center;font-size:15.3px;line-height:24px;color:#999">0.000000</div>
<div class="ab ss" style="left:309px;top:71px;width:70px;text-align:center;font-size:13px;line-height:16px;color:#555">AI<span style="position:relative;top:-3px">_</span>36</div>
<div class="ab" style="left:24px;top:119px;width:70px;height:24px;border:1px solid #8a8a8a;border-radius:2px"></div>
<div class="ab ss" style="left:24px;top:119px;width:70px;height:24px;text-align:center;font-size:15.3px;line-height:24px;color:#999">0.000000</div>
<div class="ab ss" style="left:24px;top:149px;width:70px;text-align:center;font-size:13px;line-height:16px;color:#555">AI<span style="position:relative;top:-3px">_</span>37</div>
<div class="ab" style="left:119px;top:119px;width:70px;height:24px;border:1px solid #8a8a8a;border-radius:2px"></div>
<div class="ab ss" style="left:119px;top:119px;width:70px;height:24px;text-align:center;font-size:15.3px;line-height:24px;color:#999">0.000000</div>
<div class="ab ss" style="left:119px;top:149px;width:70px;text-align:center;font-size:13px;line-height:16px;color:#555">AI<span style="position:relative;top:-3px">_</span>38</div>
<div class="ab" style="left:214px;top:119px;width:70px;height:24px;border:1px solid #8a8a8a;border-radius:2px"></div>
<div class="ab ss" style="left:214px;top:119px;width:70px;height:24px;text-align:center;font-size:15.3px;line-height:24px;color:#999">0.000000</div>
<div class="ab ss" style="left:214px;top:149px;width:70px;text-align:center;font-size:13px;line-height:16px;color:#555">AI<span style="position:relative;top:-3px">_</span>39</div>
<div class="ab" style="left:309px;top:119px;width:70px;height:24px;border:1px solid #8a8a8a;border-radius:2px"></div>
<div class="ab ss" style="left:309px;top:119px;width:70px;height:24px;text-align:center;font-size:15.3px;line-height:24px;color:#999">0.000000</div>
<div class="ab ss" style="left:309px;top:149px;width:70px;text-align:center;font-size:13px;line-height:16px;color:#555">AI<span style="position:relative;top:-3px">_</span>40</div>
</div>
<div class="ab" style="left:701px;top:560px;width:4px;height:15px;background:#d0021b"></div>
<div class="ab ss" style="left:711px;top:558px;font-size:15.6px;line-height:20px;color:#e0323c">Analog Output</div>
<div class="ab ss" style="left:1021px;top:566px;width:100px;text-align:right;font-size:11px;line-height:13px;color:#bbb">Click Name to Edit</div>
<div class="ab" style="left:701px;top:585px;width:420px;height:163px;border:1px solid #d4d4d4;border-radius:4px;background:#fff;overflow:hidden">
<div class="ab ss" style="left:9px;top:6px;font-size:12px;line-height:14px;color:#555">Modbus Integer</div>
<div class="ab ss" style="left:109px;top:6px;font-size:12px;line-height:14px;color:#555">Modbus Signed</div>
<div class="ab ss" style="left:214px;top:6px;font-size:12px;line-height:14px;color:#555;color:#e0323c">Modbus Float</div>
<div class="ab" style="left:0;top:25px;width:420px;height:1px;background:#d9232e"></div>
<div class="ab" style="left:200px;top:24px;width:100px;height:2px;background:#cc1a1a"></div>
<div class="ab" style="left:408px;top:31px;width:6px;height:50px;border-radius:3px;background:#d0021b"></div>
<div class="ab" style="left:29px;top:41px;width:70px;height:24px;border:1px solid #8a8a8a;border-radius:2px"></div>
<div class="ab ss" style="left:29px;top:41px;width:70px;height:24px;text-align:center;font-size:13.5px;line-height:24px;color:#999">11.250000</div>
<div class="ab ss" style="left:29px;top:71px;width:70px;text-align:center;font-size:13px;line-height:16px;color:#555">AO<span style="position:relative;top:-3px">_</span>33</div>
<div class="ab" style="left:124px;top:41px;width:70px;height:24px;border:1px solid #8a8a8a;border-radius:2px"></div>
<div class="ab ss" style="left:124px;top:41px;width:70px;height:24px;text-align:center;font-size:15.3px;line-height:24px;color:#999">0.000000</div>
<div class="ab ss" style="left:124px;top:71px;width:70px;text-align:center;font-size:13px;line-height:16px;color:#555">AO<span style="position:relative;top:-3px">_</span>34</div>
<div class="ab" style="left:224px;top:41px;width:70px;height:24px;border:1px solid #8a8a8a;border-radius:2px"></div>
<div class="ab ss" style="left:224px;top:41px;width:70px;height:24px;text-align:center;font-size:15.3px;line-height:24px;color:#999">0.000000</div>
<div class="ab ss" style="left:224px;top:71px;width:70px;text-align:center;font-size:13px;line-height:16px;color:#555">AO<span style="position:relative;top:-3px">_</span>35</div>
<div class="ab" style="left:319px;top:41px;width:70px;height:24px;border:1px solid #8a8a8a;border-radius:2px"></div>
<div class="ab ss" style="left:319px;top:41px;width:70px;height:24px;text-align:center;font-size:15.3px;line-height:24px;color:#999">0.000000</div>
<div class="ab ss" style="left:319px;top:71px;width:70px;text-align:center;font-size:13px;line-height:16px;color:#555">AO<span style="position:relative;top:-3px">_</span>36</div>
<div class="ab" style="left:29px;top:119px;width:70px;height:24px;border:1px solid #8a8a8a;border-radius:2px"></div>
<div class="ab ss" style="left:29px;top:119px;width:70px;height:24px;text-align:center;font-size:15.3px;line-height:24px;color:#999">0.000000</div>
<div class="ab ss" style="left:29px;top:149px;width:70px;text-align:center;font-size:13px;line-height:16px;color:#555">AO<span style="position:relative;top:-3px">_</span>37</div>
<div class="ab" style="left:124px;top:119px;width:70px;height:24px;border:1px solid #8a8a8a;border-radius:2px"></div>
<div class="ab ss" style="left:124px;top:119px;width:70px;height:24px;text-align:center;font-size:15.3px;line-height:24px;color:#999">0.000000</div>
<div class="ab ss" style="left:124px;top:149px;width:70px;text-align:center;font-size:13px;line-height:16px;color:#555">AO<span style="position:relative;top:-3px">_</span>38</div>
<div class="ab" style="left:224px;top:119px;width:70px;height:24px;border:1px solid #8a8a8a;border-radius:2px"></div>
<div class="ab ss" style="left:224px;top:119px;width:70px;height:24px;text-align:center;font-size:15.3px;line-height:24px;color:#999">0.000000</div>
<div class="ab ss" style="left:224px;top:149px;width:70px;text-align:center;font-size:13px;line-height:16px;color:#555">AO<span style="position:relative;top:-3px">_</span>39</div>
<div class="ab" style="left:319px;top:119px;width:70px;height:24px;border:1px solid #8a8a8a;border-radius:2px"></div>
<div class="ab ss" style="left:319px;top:119px;width:70px;height:24px;text-align:center;font-size:15.3px;line-height:24px;color:#999">0.000000</div>
<div class="ab ss" style="left:319px;top:149px;width:70px;text-align:center;font-size:13px;line-height:16px;color:#555">AO<span style="position:relative;top:-3px">_</span>40</div>
</div>
<svg class="ab" style="left:663px;top:758px" width="36" height="18" viewBox="0 0 36 18"><path d="M2.5 15.5 L18 3.5 L33.5 15.5" fill="none" stroke="#555" stroke-width="1.6" stroke-linecap="round" stroke-linejoin="round"/></svg>
<svg class="ab" style="left:0;top:0" width="1292" height="788" viewBox="0 0 1292 788">
<polygon points="1116.2,169.4 1055.4,163.4 1056.6,159.3 1039.7,166.0 1055.8,174.5 1055.0,170.2 1116.2,170.6" fill="#ee1c24"/>
<polygon points="1133.2,234.4 1065.2,208.8 1067.5,205.1 1049.4,207.1 1062.6,219.5 1063.0,215.2 1132.8,235.6" fill="#ee1c24"/>
<polygon points="338.7,583.2 321.1,609.2 317.7,606.2 316.3,624.8 331.4,613.7 327.0,612.5 339.7,583.8" fill="#ee1c24"/>
<polygon points="818.5,574.0 789.4,612.0 786.3,608.7 783.2,627.2 799.2,617.5 795.0,615.9 819.5,574.6" fill="#ee1c24"/>
</svg>
</body></html>
